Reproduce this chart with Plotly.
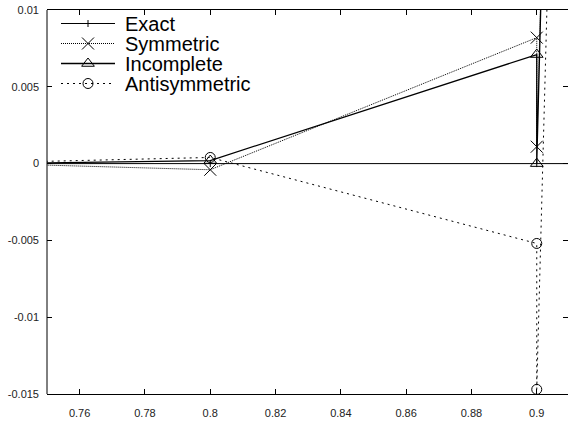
import plotly.graph_objects as go

# Sample locations (two evaluations sit at x = 0.9)
x_exact = [0.7, 0.8, 0.9, 1.0]
y_exact = [0.0, 0.0, 0.0, 0.0]

x_approx = [0.7, 0.8, 0.9, 0.9, 1.0]
y_symmetric = [0.0002, -0.0004, 0.0082, 0.0011, 0.80]
y_incomplete = [-0.0001, 0.0002, 0.0071, 0.0, 0.83]
y_antisymmetric = [-0.0001, 0.0004, -0.0052, -0.0147, 0.78]

series_names = ["Exact", "Symmetric", "Incomplete", "Antisymmetric"]

x_ticks = [0.76, 0.78, 0.80, 0.82, 0.84, 0.86, 0.88, 0.90]
x_tick_text = ["0.76", "0.78", "0.8", "0.82", "0.84", "0.86", "0.88", "0.9"]
y_ticks = [0.01, 0.005, 0.0, -0.005, -0.01, -0.015]
y_tick_text = ["0.01", "0.005", "0", "-0.005", "-0.01", "-0.015"]

FONT = "Liberation Sans, Arial, Helvetica, sans-serif"
INK = "black"

styles = {
    "Exact": dict(line=dict(color=INK, width=1),
                  marker=dict(symbol="line-ns-open", size=5, color=INK, line=dict(color=INK, width=1))),
    "Symmetric": dict(line=dict(color=INK, width=1, dash="1px,1px"),
                      marker=dict(symbol="x-thin-open", size=12, color=INK, line=dict(color=INK, width=1))),
    "Incomplete": dict(line=dict(color=INK, width=1.3),
                       marker=dict(symbol="triangle-up-open", size=11, color=INK, line=dict(color=INK, width=1))),
    "Antisymmetric": dict(line=dict(color=INK, width=1, dash="2px,4px"),
                          marker=dict(symbol="circle-open", size=10, color=INK, line=dict(color=INK, width=1))),
}

fig = go.Figure()

data = [
    ("Exact", x_exact, y_exact),
    ("Symmetric", x_approx, y_symmetric),
    ("Incomplete", x_approx, y_incomplete),
    ("Antisymmetric", x_approx, y_antisymmetric),
]
for name, xs, ys in data:
    st = styles[name]
    fig.add_trace(go.Scatter(x=xs, y=ys, mode="lines+markers", name=name,
                             line=st["line"], marker=st["marker"],
                             showlegend=False, cliponaxis=True))

# Key drawn on an overlay axis measured in page pixels
L, R, T, B = 47, 568, 10, 394
key_x0, key_x1, key_xm, key_text_x = 61, 115, 88, 124
key_rows = [23.5, 43.5, 63.5, 83.5]
for name, row in zip(series_names, key_rows):
    st = styles[name]
    fig.add_trace(go.Scatter(x=[key_x0, key_x1], y=[row, row], mode="lines",
                             line=st["line"], xaxis="x2", yaxis="y2",
                             showlegend=False, hoverinfo="skip"))
    fig.add_trace(go.Scatter(x=[key_xm], y=[row], mode="markers",
                             marker=st["marker"], xaxis="x2", yaxis="y2",
                             showlegend=False, hoverinfo="skip"))
    fig.add_annotation(x=key_text_x, y=row, xref="x2", yref="y2", text=name,
                       showarrow=False, xanchor="left", yanchor="middle",
                       borderpad=0,
                       font=dict(family=FONT, size=20, color=INK))

W, H = 568, 421
x_min = 0.75
x_max = 0.75 + (R - L) / (65.3 / 0.02)

fig.update_layout(
    width=W, height=H,
    margin=dict(l=L, r=W - R, t=T, b=H - B, pad=0),
    paper_bgcolor="white", plot_bgcolor="white",
    showlegend=False,
    font=dict(family=FONT, size=11, color="#222222"),
    xaxis=dict(range=[x_min, x_max], tickvals=x_ticks, ticktext=x_tick_text,
               showgrid=False, zeroline=False, showline=True, linecolor=INK, linewidth=1,
               mirror="ticks", ticks="inside", ticklen=5, tickcolor=INK, tickwidth=1,
               ticklabelstandoff=9, automargin=False),
    yaxis=dict(range=[-0.015, 0.01], tickvals=y_ticks, ticktext=y_tick_text,
               showgrid=False, zeroline=False, showline=False,
               mirror="ticks", ticks="inside", ticklen=5, tickcolor=INK, tickwidth=1,
               ticklabelstandoff=7, automargin=False),
    xaxis2=dict(overlaying="x", range=[L, R], visible=False, fixedrange=True),
    yaxis2=dict(overlaying="y", range=[B, T], visible=False, fixedrange=True),
)

# Left border of the frame
fig.add_shape(type="line", xref="paper", yref="paper", x0=0, x1=0, y0=0, y1=1,
              line=dict(color=INK, width=1))

fig.write_html("out.html")
